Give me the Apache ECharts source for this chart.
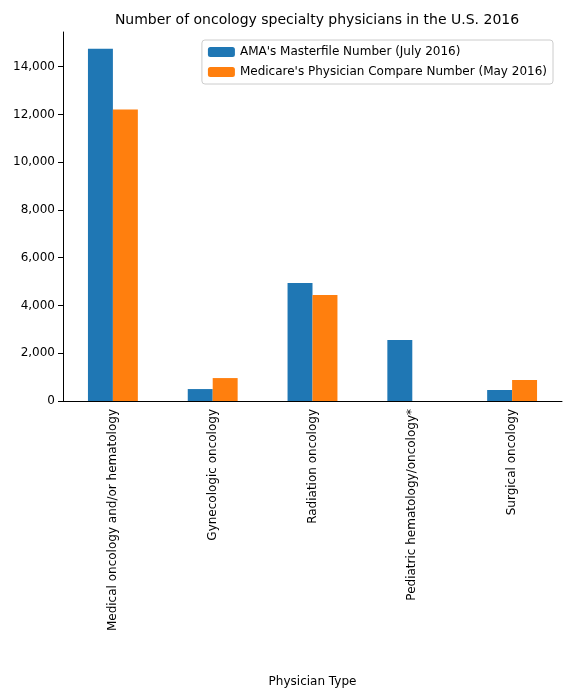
<!DOCTYPE html>
<html>
<head>
<meta charset="utf-8">
<script src="https://cdn.jsdelivr.net/npm/echarts@6/dist/echarts.min.js"></script>
<style>html,body{margin:0;padding:0;background:#fff}#chart{width:569px;height:698px}</style>
</head>
<body>
<div id="chart"></div>
<script>
// 数据
const categories = ['Medical oncology and/or hematology', 'Gynecologic oncology', 'Radiation oncology', 'Pediatric hematology/oncology*', 'Surgical oncology'];
const amaValues = [14750, 500, 4945, 2555, 460];
const medicareValues = [12200, 960, 4440, 0, 880];
const seriesNames = ["AMA's Masterfile Number (July 2016)", "Medicare's Physician Compare Number (May 2016)"];

const font = 'DejaVu Sans';
const chart = echarts.init(document.getElementById('chart'));

chart.setOption({
    animation: false,
    textStyle: { fontFamily: font },
    title: {
        text: 'Number of oncology specialty physicians in the U.S. 2016',
        left: 312, top: 8, textAlign: 'center',
        textStyle: { fontSize: 14, fontWeight: 'normal', color: '#000', fontFamily: font }
    },
    legend: {
        orient: 'vertical', right: 16, top: 40,
        itemWidth: 27, itemHeight: 10, itemGap: 8,
        borderColor: '#ccc', borderWidth: 1, borderRadius: 3, padding: [6, 6, 6, 6],
        textStyle: { fontSize: 12, color: '#000', fontFamily: font }
    },
    grid: { left: 63, right: 7, top: 32, bottom: 297 },
    xAxis: {
        type: 'category', data: categories,
        name: 'Physician Type', nameLocation: 'middle', nameGap: 275,
        nameTextStyle: { fontSize: 12, color: '#000' },
        axisLine: { lineStyle: { color: '#000' } },
        axisTick: { alignWithLabel: true, lineStyle: { color: '#000' } },
        axisLabel: { rotate: 90, color: '#000', fontSize: 12, interval: 0 }
    },
    yAxis: {
        type: 'value', min: 0, max: 15450, interval: 2000,
        splitLine: { show: false },
        axisLine: { show: true, lineStyle: { color: '#000' } },
        axisTick: { show: true, lineStyle: { color: '#000' } },
        axisLabel: { color: '#000', fontSize: 12, showMaxLabel: false }
    },
    series: [
        { name: seriesNames[0], type: 'bar', data: amaValues, barWidth: '25%', barGap: '0%', itemStyle: { color: '#1f77b4' } },
        { name: seriesNames[1], type: 'bar', data: medicareValues, barWidth: '25%', barGap: '0%', itemStyle: { color: '#ff7f0e' } }
    ]
});
</script>
</body>
</html>
